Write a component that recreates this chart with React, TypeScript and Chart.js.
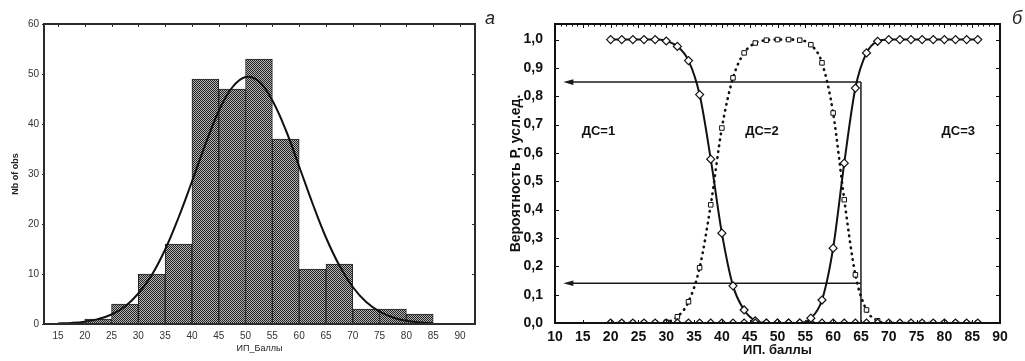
import React, { useEffect, useRef } from 'react';
import { Chart, registerables } from 'chart.js';

Chart.register(...registerables);

const FONT = '"Liberation Sans", Arial, sans-serif';

// ---------- Panel "а": histogram of ИП scores ----------
const BIN_STARTS = [20, 25, 30, 35, 40, 45, 50, 55, 60, 65, 70, 75, 80];
const BIN_COUNTS = [1, 4, 10, 16, 49, 47, 53, 37, 11, 12, 3, 3, 2];
const BIN_WIDTH = 5;
const FIT_X = [15, 17.5, 20, 22.5, 25, 27.5, 30, 32.5, 35, 37.5, 40, 42.5, 45, 47.5, 50, 52.5, 55, 57.5, 60, 62.5, 65, 67.5, 70, 72.5, 75, 77.5, 80, 82.5, 85];
const FIT_Y = [0.09, 0.21, 0.47, 0.98, 1.9, 3.5, 6.1, 9.8, 14.9, 21.3, 28.5, 35.9, 42.6, 47.3, 49.4, 48.5, 44.7, 38.8, 31.5, 24.1, 17.3, 11.7, 7.4, 4.4, 2.5, 1.3, 0.64, 0.3, 0.13];
const HIST_X_TICKS = [15, 20, 25, 30, 35, 40, 45, 50, 55, 60, 65, 70, 75, 80, 85, 90];
const HIST_Y_TICKS = [0, 10, 20, 30, 40, 50, 60];

// ---------- Panel "б": class probabilities ----------
const P_X = [20, 22, 24, 26, 28, 30, 32, 34, 36, 38, 40, 42, 44, 46, 48, 50, 52, 54, 56, 58, 60, 62, 64, 66, 68, 70, 72, 74, 76, 78, 80, 82, 84, 86];
const P_DS1 = [1, 1, 1, 1, 1, 0.995, 0.976, 0.926, 0.806, 0.578, 0.317, 0.131, 0.046, 0.008, 0, 0, 0, 0, 0, 0, 0, 0, 0, 0, 0, 0, 0, 0, 0, 0, 0, 0, 0, 0];
const P_DS2 = [0, 0, 0, 0, 0, 0.003, 0.022, 0.075, 0.195, 0.417, 0.688, 0.865, 0.953, 0.988, 0.998, 1, 1, 0.998, 0.982, 0.918, 0.741, 0.435, 0.17, 0.046, 0.008, 0, 0, 0, 0, 0, 0, 0, 0, 0];
const P_DS3 = [0, 0, 0, 0, 0, 0, 0, 0, 0, 0, 0, 0, 0, 0, 0, 0, 0, 0, 0.017, 0.081, 0.264, 0.564, 0.829, 0.953, 0.994, 1, 1, 1, 1, 1, 1, 1, 1, 1];
const P_X_TICKS = [10, 15, 20, 25, 30, 35, 40, 45, 50, 55, 60, 65, 70, 75, 80, 85, 90];
const P_Y_TICKS = [0, 0.1, 0.2, 0.3, 0.4, 0.5, 0.6, 0.7, 0.8, 0.9, 1.0];
const THRESHOLD_X = 65;
const THRESHOLD_LEVELS = [0.85, 0.14];
const ARROW_TIP_X = 11.5;
const ZONE_LABELS = ['ДС=1', 'ДС=2', 'ДС=3'];
const ZONE_LABEL_X = [17.8, 47.2, 82.5];
const ZONE_LABEL_Y = 0.676;

function makePattern(): CanvasPattern | string {
  const c = document.createElement('canvas');
  c.width = 2;
  c.height = 2;
  const g = c.getContext('2d');
  if (!g) return '#666';
  g.fillStyle = '#b4b4b4';
  g.fillRect(0, 0, 2, 2);
  g.fillStyle = '#222';
  g.fillRect(0, 0, 1, 1);
  g.fillRect(1, 1, 1, 1);
  const p = g.createPattern(c, 'repeat');
  return p || '#666';
}

const framePlugin = {
  id: 'frame',
  afterDatasetsDraw(chart: any, _args: any, opts: any) {
    const { ctx, chartArea: a, scales } = chart;
    ctx.save();
    ctx.strokeStyle = opts.color;
    ctx.lineWidth = 1;
    const line = (x1: number, y1: number, x2: number, y2: number) => {
      ctx.beginPath();
      ctx.moveTo(x1, y1);
      ctx.lineTo(x2, y2);
      ctx.stroke();
    };
    (opts.topTicks || []).forEach((t: any) => {
      const px = Math.round(scales.x.getPixelForValue(t.v)) + 0.5;
      line(px, a.top, px, a.top + t.len);
    });
    (opts.bottomTicks || []).forEach((t: any) => {
      const px = Math.round(scales.x.getPixelForValue(t.v)) + 0.5;
      line(px, a.bottom, px, a.bottom - t.len);
    });
    (opts.rightTicks || []).forEach((t: any) => {
      const py = Math.round(scales.y.getPixelForValue(t.v)) + 0.5;
      line(a.right, py, a.right - t.len, py);
    });
    (opts.leftTicks || []).forEach((t: any) => {
      const py = Math.round(scales.y.getPixelForValue(t.v)) + 0.5;
      line(a.left, py, a.left + t.len, py);
    });
    (opts.leftOutTicks || []).forEach((t: any) => {
      const py = Math.round(scales.y.getPixelForValue(t.v)) + 0.5;
      line(a.left, py, a.left - t.len, py);
    });
    ctx.lineWidth = opts.width;
    ctx.strokeRect(a.left, a.top, a.right - a.left, a.bottom - a.top);
    ctx.restore();
  },
};

const arrowsPlugin = {
  id: 'arrows',
  beforeDatasetsDraw(chart: any) {
    const { ctx, scales } = chart;
    const xs = scales.x;
    const ys = scales.y;
    ctx.save();
    ctx.strokeStyle = '#1a1a1a';
    ctx.fillStyle = '#1a1a1a';
    ctx.lineWidth = 1.5;
    const xT = xs.getPixelForValue(THRESHOLD_X);
    const xTip = xs.getPixelForValue(ARROW_TIP_X);
    THRESHOLD_LEVELS.forEach((lv) => {
      const py = ys.getPixelForValue(lv);
      ctx.beginPath();
      ctx.moveTo(xT, py);
      ctx.lineTo(xTip + 6, py);
      ctx.stroke();
      ctx.beginPath();
      ctx.moveTo(xTip, py);
      ctx.lineTo(xTip + 10, py - 2.8);
      ctx.lineTo(xTip + 10, py + 2.8);
      ctx.closePath();
      ctx.fill();
    });
    ctx.beginPath();
    ctx.moveTo(xT, ys.getPixelForValue(THRESHOLD_LEVELS[0]));
    ctx.lineTo(xT, ys.getPixelForValue(0));
    ctx.stroke();
    ctx.restore();
  },
  afterDatasetsDraw(chart: any) {
    const { ctx, scales } = chart;
    ctx.save();
    ctx.fillStyle = '#111';
    ctx.font = `bold 13px ${FONT}`;
    ctx.textAlign = 'center';
    ctx.textBaseline = 'middle';
    ZONE_LABELS.forEach((t, i) => {
      ctx.fillText(t, scales.x.getPixelForValue(ZONE_LABEL_X[i]), scales.y.getPixelForValue(ZONE_LABEL_Y));
    });
    ctx.restore();
  },
};

function HistogramChart() {
  const ref = useRef<HTMLCanvasElement>(null);
  useEffect(() => {
    if (!ref.current) return;
    const pattern = makePattern();
    const chart = new Chart(ref.current, {
      type: 'bar',
      data: {
        datasets: [
          {
            type: 'line',
            data: FIT_X.map((x, i) => ({ x, y: FIT_Y[i] })),
            borderColor: '#111',
            borderWidth: 2,
            pointRadius: 0,
            tension: 0.4,
            order: 0,
          } as any,
          {
            type: 'bar',
            data: BIN_STARTS.map((s, i) => ({ x: s + BIN_WIDTH / 2, y: BIN_COUNTS[i] })),
            backgroundColor: pattern as any,
            borderColor: '#222',
            borderWidth: 1,
            borderSkipped: false,
            barPercentage: 1,
            categoryPercentage: 1,
            order: 1,
          } as any,
        ],
      },
      options: {
        responsive: false,
        animation: false,
        devicePixelRatio: 1,
        layout: { padding: { left: 0, top: 24, right: 25, bottom: 0 } },
        plugins: {
          legend: { display: false },
          tooltip: { enabled: false },
          frame: {
            color: '#2b2b2b',
            width: 2,
            topTicks: HIST_X_TICKS.map((v) => ({ v, len: 3 })),
            rightTicks: HIST_Y_TICKS.map((v) => ({ v, len: 3 })),
            leftOutTicks: HIST_Y_TICKS.map((v) => ({ v, len: 2 })),
          },
        } as any,
        scales: {
          x: {
            type: 'linear',
            offset: false,
            min: 12.4,
            max: 92.8,
            afterBuildTicks: (s: any) => {
              s.ticks = HIST_X_TICKS.map((v) => ({ value: v }));
            },
            afterFit: (s: any) => {
              s.height = 37;
            },
            grid: { display: false, drawTicks: false },
            border: { display: false },
            ticks: { font: { family: FONT, size: 10 }, color: '#333', padding: 6, maxRotation: 0, autoSkip: false },
            title: {
              display: true,
              text: 'ИП_Баллы',
              font: { family: FONT, size: 9 },
              color: '#222',
              padding: { top: 0, bottom: 7 },
            },
          },
          y: {
            type: 'linear',
            min: 0,
            max: 60,
            afterBuildTicks: (s: any) => {
              s.ticks = HIST_Y_TICKS.map((v) => ({ value: v }));
            },
            afterFit: (s: any) => {
              s.width = 44;
            },
            grid: { display: false, drawTicks: false },
            border: { display: false },
            ticks: { font: { family: FONT, size: 10 }, color: '#333', padding: 5 },
            title: {
              display: true,
              text: 'Nb of obs',
              font: { family: FONT, size: 9, weight: 'bold' },
              color: '#222',
              padding: { top: 10, bottom: 0 },
            },
          },
        },
      },
      plugins: [framePlugin],
    } as any);
    return () => chart.destroy();
  }, []);
  return <canvas ref={ref} width={500} height={361} style={{ position: 'absolute', left: 0, top: 0 }} />;
}

function ProbabilityChart() {
  const ref = useRef<HTMLCanvasElement>(null);
  useEffect(() => {
    if (!ref.current) return;
    const diamond = {
      pointStyle: 'rectRot',
      pointRadius: 4,
      pointBackgroundColor: '#fff',
      pointBorderColor: '#111',
      pointBorderWidth: 1.2,
      borderColor: '#111',
      borderWidth: 2,
      cubicInterpolationMode: 'monotone',
      fill: false,
    };
    const chart = new Chart(ref.current, {
      type: 'line',
      data: {
        datasets: [
          {
            label: 'ДС=2',
            data: P_X.map((x, i) => ({ x, y: P_DS2[i] })),
            pointStyle: 'rect',
            pointRadius: 3.2,
            pointBackgroundColor: '#fff',
            pointBorderColor: '#111',
            pointBorderWidth: 1,
            borderColor: '#111',
            borderWidth: 2.6,
            borderDash: [0.5, 5.5],
            borderCapStyle: 'round',
            cubicInterpolationMode: 'monotone',
            fill: false,
            order: 2,
          },
          { label: 'ДС=1', data: P_X.map((x, i) => ({ x, y: P_DS1[i] })), ...diamond, order: 1 },
          { label: 'ДС=3', data: P_X.map((x, i) => ({ x, y: P_DS3[i] })), ...diamond, order: 0 },
        ],
      },
      options: {
        responsive: false,
        animation: false,
        devicePixelRatio: 1,
        layout: { padding: { left: 0, top: 24, right: 25, bottom: 0 } },
        plugins: {
          legend: { display: false },
          tooltip: { enabled: false },
          frame: {
            color: '#111',
            width: 2,
            topTicks: Array.from({ length: 81 }, (_, i) => ({ v: 10 + i, len: i % 5 === 0 ? 4 : 2.5 })),
            bottomTicks: P_X_TICKS.map((v) => ({ v, len: 3 })),
            leftTicks: P_Y_TICKS.map((v) => ({ v, len: 4 })),
            rightTicks: P_Y_TICKS.map((v) => ({ v, len: 4 })),
          },
        } as any,
        scales: {
          x: {
            type: 'linear',
            min: 10,
            max: 90,
            afterBuildTicks: (s: any) => {
              s.ticks = P_X_TICKS.map((v) => ({ value: v }));
            },
            afterFit: (s: any) => {
              s.height = 38;
            },
            grid: { display: false, drawTicks: false },
            border: { display: false },
            ticks: { font: { family: FONT, size: 14, weight: 'bold' }, color: '#111', padding: 6, maxRotation: 0, autoSkip: false },
            title: {
              display: true,
              text: 'ИП. баллы',
              font: { family: FONT, size: 13, weight: 'bold' },
              color: '#111',
              padding: { top: 0, bottom: 3 },
            },
          },
          y: {
            type: 'linear',
            min: 0,
            max: 1.055,
            afterBuildTicks: (s: any) => {
              s.ticks = P_Y_TICKS.map((v) => ({ value: v }));
            },
            afterFit: (s: any) => {
              s.width = 55;
            },
            grid: { display: false, drawTicks: false },
            border: { display: false },
            ticks: {
              font: { family: FONT, size: 14, weight: 'bold' },
              color: '#111',
              padding: 12,
              callback: (v: any) => Number(v).toFixed(1).replace('.', ','),
            },
            title: {
              display: true,
              text: 'Вероятность P, усл.ед.',
              font: { family: FONT, size: 14, weight: 'bold' },
              color: '#111',
              padding: { top: 8, bottom: 0 },
            },
          },
        },
      },
      plugins: [arrowsPlugin, framePlugin],
    } as any);
    return () => chart.destroy();
  }, []);
  return <canvas ref={ref} width={525} height={361} style={{ position: 'absolute', left: 500, top: 0 }} />;
}

const panelLetter: React.CSSProperties = {
  position: 'absolute',
  top: 9,
  fontFamily: FONT,
  fontStyle: 'italic',
  fontSize: 18,
  lineHeight: '18px',
  color: '#222',
};

export default function App() {
  return (
    <div style={{ position: 'absolute', left: 0, top: 0, width: 1025, height: 361, background: '#fff', overflow: 'hidden' }}>
      <HistogramChart />
      <ProbabilityChart />
      <span style={{ ...panelLetter, left: 485 }}>а</span>
      <span style={{ ...panelLetter, left: 1012 }}>б</span>
    </div>
  );
}
